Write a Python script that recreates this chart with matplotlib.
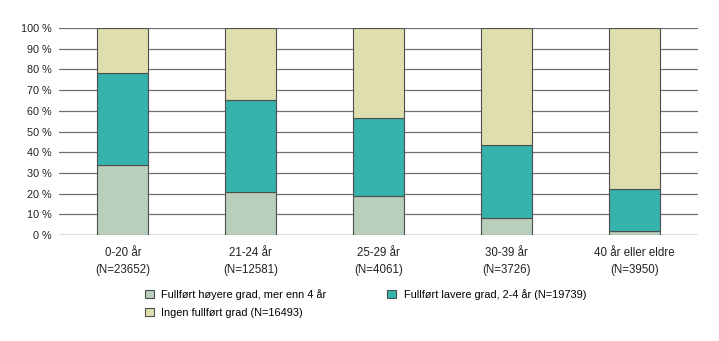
import numpy as np
import matplotlib
matplotlib.use('Agg')
import matplotlib.pyplot as plt

# Aldersgrupper og andeler (prosent) per gradsnivå
grupper = ['0-20 år\n(N=23652)', '21-24 år\n(N=12581)', '25-29 år\n(N=4061)',
           '30-39 år\n(N=3726)', '40 år eller eldre\n(N=3950)']
hoyere = [33.7, 20.6, 18.7, 8.4, 1.8]
lavere = [44.4, 44.8, 37.7, 34.9, 20.3]
ingen = [21.9, 34.6, 43.6, 56.7, 77.9]
serie_navn = ['Fullført høyere grad, mer enn 4 år',
              'Fullført lavere grad, 2-4 år (N=19739)',
              'Ingen fullført grad (N=16493)']
farger = ['#b9cebb', '#37b3ae', '#dfdeae']

plt.rcParams['font.family'] = 'Liberation Sans'

fig = plt.figure(figsize=(7.19, 3.41), dpi=100)
ax = fig.add_axes([59/719, 1-235/341, (698-59)/719, (235-28)/341])

x = np.arange(len(grupper))
bunn = np.zeros(len(grupper))
handles = []
for verdier, farge, lbl in zip([hoyere, lavere, ingen], farger, serie_navn):
    b = ax.bar(x, verdier, 0.4, bottom=bunn, color=farge, edgecolor='#4d4d4d',
               linewidth=0.8, label=lbl, zorder=3)
    handles.append(b)
    bunn += np.array(verdier)

ax.set_xlim(-0.5, 4.5)
ax.set_ylim(0, 100)
ax.set_yticks(range(0, 101, 10))
ax.set_yticklabels(['%d %%' % v for v in range(0, 101, 10)], fontsize=7.8, color='#222222')
ax.yaxis.grid(True, color='#707070', linewidth=0.9, zorder=0)
ax.set_xticks(x)
ax.set_xticklabels(grupper, fontsize=8.3, color='#222222', linespacing=1.45)
ax.tick_params(axis='y', length=0, pad=5)
ax.tick_params(axis='x', length=0, pad=9)
for s in ax.spines.values():
    s.set_visible(False)
ax.axhline(0, color='#707070', linewidth=0.9, zorder=1)

# rekkefølge slik at legenden fylles radvis
fig.legend([handles[0], handles[2], handles[1]],
           [serie_navn[0], serie_navn[2], serie_navn[1]],
           ncol=2, loc='upper left', bbox_to_anchor=(145/719, 1-289/341),
           frameon=False, fontsize=7.9, handlelength=0.8, handleheight=0.8,
           handletextpad=0.7, columnspacing=5.5, labelspacing=0.75,
           borderpad=0, borderaxespad=0)

plt.savefig('out.png', dpi=100)
